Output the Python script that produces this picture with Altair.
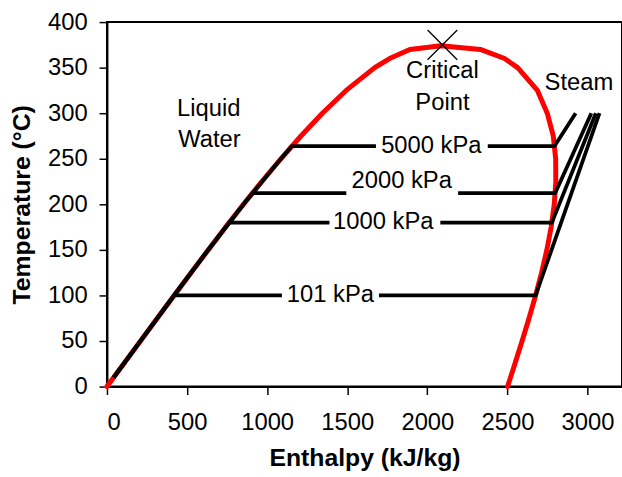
import altair as alt
import pandas as pd

# Saturation dome (steam tables)
sat_T = [0.01, 25, 50, 75, 100, 125, 150, 175, 200, 225, 250, 275, 300, 325, 350, 360, 370, 373.95]
sat_hf = [0.0, 104.8, 209.3, 313.9, 419.1, 525.0, 632.2, 741.0, 852.3, 966.7, 1085.7, 1210.9,
          1344.8, 1493.0, 1671.2, 1764.2, 1890.7, 2084.3]
sat_hg = [2500.9, 2546.5, 2591.3, 2634.6, 2675.6, 2713.1, 2745.9, 2772.7, 2792.0, 2801.8,
          2800.9, 2786.0, 2748.4, 2687.1, 2563.6, 2482.0, 2330.7, 2084.3]

# Isobars
pressures = ["5000 kPa", "2000 kPa", "1000 kPa", "101 kPa"]
p_Tsat = [263.9, 212.4, 179.9, 100.0]
p_hf = [1154.5, 908.6, 762.8, 419.1]
p_hg = [2794.2, 2798.3, 2777.1, 2675.6]
p_h300 = [2925.6, 3023.5, 3051.6, 3074.5]
gap_lo = [1679, 1494, 1389, 1092]
gap_hi = [2377, 2192, 2081, 1698]
label_h = [2025, 1840, 1725, 1395]
label_T = [263.9, 226, 181, 100]
liq_T = [10, 50, 100, 150, 200, 250]
liq_h = [42, 209, 419, 632, 852, 1086]

# Annotations
ann_text = ["Liquid", "Water", "Critical", "Point", "Steam"]
ann_h = [635, 640, 2094, 2094, 2946]
ann_T = [304, 270, 346, 311, 333]
crit_h = [2094]
crit_T = [375]

FONT = "Liberation Sans"

# Build tables
dome_rows = []
o = 0
for t, h in zip(sat_T, sat_hf):
    dome_rows.append({"h": h, "T": t, "o": o}); o += 1
for t, h in zip(reversed(sat_T), reversed(sat_hg)):
    dome_rows.append({"h": h, "T": t, "o": o}); o += 1
dome = pd.DataFrame(dome_rows)

iso_rows = []
for i, p in enumerate(pressures):
    o = 0
    seg = p + "_a"
    for t, h in zip(liq_T, liq_h):
        if t < p_Tsat[i]:
            iso_rows.append({"h": h, "T": t, "o": o, "seg": seg}); o += 1
    iso_rows.append({"h": p_hf[i], "T": p_Tsat[i], "o": o, "seg": seg}); o += 1
    iso_rows.append({"h": gap_lo[i], "T": p_Tsat[i], "o": o, "seg": seg}); o += 1
    seg = p + "_b"
    iso_rows.append({"h": gap_hi[i], "T": p_Tsat[i], "o": o, "seg": seg}); o += 1
    iso_rows.append({"h": p_hg[i], "T": p_Tsat[i], "o": o, "seg": seg}); o += 1
    iso_rows.append({"h": p_h300[i], "T": 300, "o": o, "seg": seg}); o += 1
iso = pd.DataFrame(iso_rows)

labels = pd.DataFrame({"h": label_h, "T": label_T, "text": pressures})
ann = pd.DataFrame({"h": ann_h, "T": ann_T, "text": ann_text})
crit = pd.DataFrame({"h": crit_h, "T": crit_T})

xs = alt.Scale(domain=[0, 3215], nice=False, zero=False)
ys = alt.Scale(domain=[0, 400], nice=False)

xenc = alt.X("h:Q", scale=xs, title="Enthalpy (kJ/kg)",
             axis=alt.Axis(values=[0, 500, 1000, 1500, 2000, 2500, 3000], grid=False, format="d",
                           labelPadding=16, titlePadding=12))
yenc = alt.Y("T:Q", scale=ys, title="Temperature (°C)",
             axis=alt.Axis(values=[0, 50, 100, 150, 200, 250, 300, 350, 400], grid=False, format="d",
                           labelPadding=12, titlePadding=13))

dome_line = alt.Chart(dome).mark_line(color="#ff0000", strokeWidth=5, strokeCap="round",
                                      strokeJoin="round").encode(
    x=xenc, y=yenc, order="o:Q")

iso_line = alt.Chart(iso).mark_line(color="black", strokeWidth=3.8, strokeCap="butt",
                                    strokeJoin="round").encode(
    x="h:Q", y="T:Q", detail="seg:N", order="o:Q")

label_text = alt.Chart(labels).mark_text(font=FONT, fontSize=24, color="black",
                                         baseline="middle", align="center").encode(
    x="h:Q", y="T:Q", text="text:N")

ann_text_ch = alt.Chart(ann).mark_text(font=FONT, fontSize=24, color="black",
                                       baseline="middle", align="center").encode(
    x="h:Q", y="T:Q", text="text:N")

crit_mark = alt.Chart(crit).mark_point(shape="M-1,-1L1,1M-1,1L1,-1", size=900, filled=False,
                                       color="black", strokeWidth=1.3, opacity=1).encode(
    x="h:Q", y="T:Q")

chart = alt.layer(dome_line, iso_line, label_text, ann_text_ch, crit_mark).properties(
    width=520, height=368,
    autosize=alt.AutoSizeParams(type="none"),
    padding={"left": 108, "top": 20, "right": 0, "bottom": 89},
).configure_view(stroke="black", strokeWidth=2).configure_axis(
    domainColor="black", domainWidth=2, tickColor="black", tickWidth=1.5, tickSize=8,
    labelFont=FONT, labelFontSize=24, labelColor="black",
    titleFont=FONT, titleFontSize=25, titleFontWeight="bold", titleColor="black",
)

chart.save("out.html", embed_options={"renderer": "svg", "actions": False})
